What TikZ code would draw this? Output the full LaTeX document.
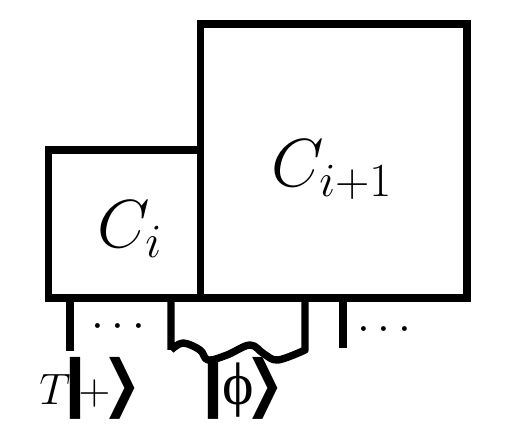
\RequirePackage{fix-cm}
\documentclass[tikz,border=0pt]{standalone}
\usepackage{amsmath,amssymb}
\usepackage{fontspec}
\newfontfamily\dingfont{DejaVu Sans}
\newfontfamily\greekfont{Liberation Serif}
\usepackage{tikz}
\usetikzlibrary{positioning,calc}
\newcommand{\kbar}{{\dingfont\fontsize{31}{31}\selectfont ❙}}
\newcommand{\kang}{\scalebox{0.75}[1]{\dingfont\fontsize{31}{31}\selectfont ❯}}

\begin{document}
\begin{tikzpicture}[
    x=0.5pt, y=-0.5pt,
    box/.style={draw, line width=3.7pt, inner sep=0pt},
    wire/.style={line width=3.7pt},
    lbl/.style={font=\fontsize{34}{40}\selectfont, inner sep=0pt},
    ket/.style={font=\fontsize{22}{26}\selectfont, inner sep=0pt, anchor=west},
    dots/.style={font=\fontsize{23}{26}\selectfont, inner sep=0pt}
]
\useasboundingbox (0,0) rectangle (508,442);

% boxes
\node[box, minimum width=76pt, minimum height=74pt] (ci) at (124.5,224) {};
\node[box, minimum width=133.25pt, minimum height=137pt] (cn) at (333.75,161) {};
\node[lbl] (cilbl) at (130,229) {$C_i$};
\node[lbl] (cnlbl) at (332,170) {$C_{i+1}$};

% leg ends
\coordinate (l1) at (70,351);
\coordinate (l2) at (171,350);
\coordinate (l3) at (305,350);
\coordinate (l4) at (343,348);

% legs
\draw[wire] (l1 |- ci.south) -- (l1);
\draw[wire, line join=round] (l2 |- ci.south) -- (l2)
    plot[smooth, tension=0.6] coordinates {(171,350) (183,343) (200,350) (208,360) (227,355) (250,345) (264,354) (278,360) (305,350)}
    -- (l3 |- cn.south);
\draw[wire] (l4 |- cn.south) -- (l4);

% dots
\node[dots] (d1) at (122,327) {$\cdots$};
\node[dots] (d2) at (388,330) {$\cdots$};

% kets
\node[ket] (tplus) at (39,388) {$T$\kern-10.5pt\kbar\kern-11.5pt$+$\kern-4pt\kang};
\node[ket] (phi) at (187,388) {\kbar\kern-8.5pt{\greekfont\fontsize{30}{30}\selectfont ϕ}\kern-4pt\kang};
\end{tikzpicture}
\end{document}
